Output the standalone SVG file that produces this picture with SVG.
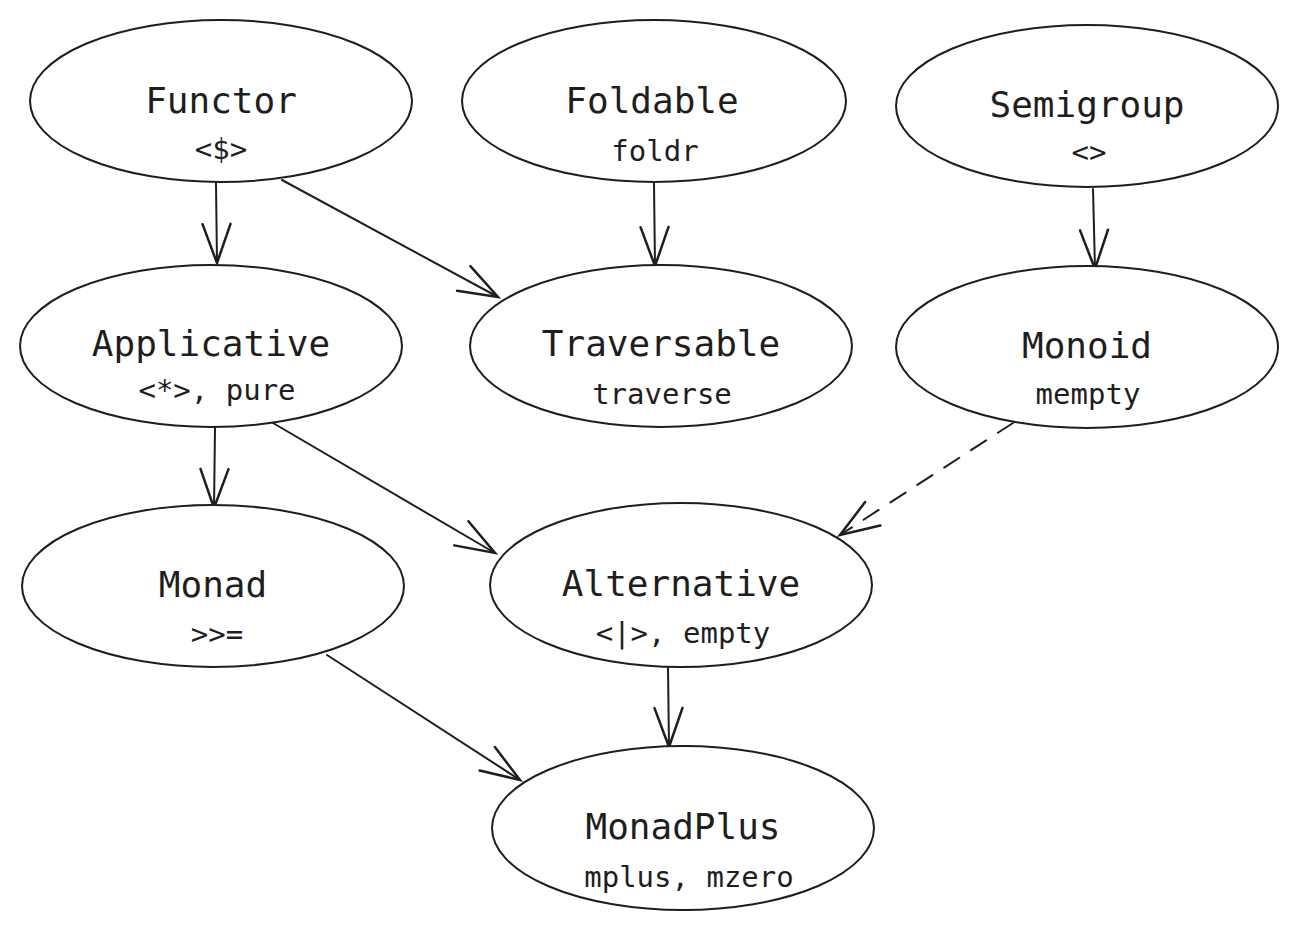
<svg xmlns="http://www.w3.org/2000/svg" width="1298" height="930" viewBox="0 0 1298 930">
<style>
.node ellipse{fill:#ffffff;stroke:#1e1e1e;stroke-width:2}
.t{font-family:"DejaVu Sans Mono","Liberation Mono",monospace;font-size:36px;fill:#1e1e1e;text-anchor:middle}
.s{font-family:"DejaVu Sans Mono","Liberation Mono",monospace;font-size:29px;fill:#1e1e1e;text-anchor:middle}
.e{fill:none;stroke:#1e1e1e;stroke-width:2;stroke-linecap:round}
.d{stroke-dasharray:18 14}
</style>
<defs>
<marker id="arr" markerUnits="userSpaceOnUse" markerWidth="50" markerHeight="40" viewBox="-42 -20 50 40" refX="0" refY="0" orient="auto">
<path d="M-39,-14 L0,0 L-39,14" fill="none" stroke="#1e1e1e" stroke-width="2.5" stroke-linecap="round"/>
</marker>
</defs>
<rect width="1298" height="930" fill="#ffffff"/>
<g id="connectors">
<path class="e" d="M216,183 L217,263" marker-end="url(#arr)"/>
<path class="e" d="M282,180 L498,297" marker-end="url(#arr)"/>
<path class="e" d="M654,183 L655,266" marker-end="url(#arr)"/>
<path class="e" d="M1093,189 L1095,269" marker-end="url(#arr)"/>
<path class="e" d="M215,428 L214,508" marker-end="url(#arr)"/>
<path class="e" d="M273,423 L495,553" marker-end="url(#arr)"/>
<path class="e d" d="M1013,423 L840,535" marker-end="url(#arr)"/>
<path class="e" d="M327,655 L520,780" marker-end="url(#arr)"/>
<path class="e" d="M668,668 L669,747" marker-end="url(#arr)"/>
</g>
<g id="functor" class="node"><ellipse cx="221" cy="101" rx="191" ry="81"/><text class="t" x="221" y="113">Functor</text><text class="s" x="221" y="159">&lt;$&gt;</text></g>
<g id="foldable" class="node"><ellipse cx="654" cy="101" rx="192" ry="81"/><text class="t" x="652" y="113">Foldable</text><text class="s" x="655" y="161">foldr</text></g>
<g id="semigroup" class="node"><ellipse cx="1087" cy="106" rx="191" ry="81"/><text class="t" x="1087" y="117">Semigroup</text><text class="s" x="1089" y="162">&lt;&gt;</text></g>
<g id="applicative" class="node"><ellipse cx="211" cy="346" rx="191" ry="81"/><text class="t" x="211" y="356">Applicative</text><text class="s" x="217" y="400">&lt;*&gt;, pure</text></g>
<g id="traversable" class="node"><ellipse cx="661" cy="346" rx="191" ry="81"/><text class="t" x="661" y="356">Traversable</text><text class="s" x="662" y="404">traverse</text></g>
<g id="monoid" class="node"><ellipse cx="1087" cy="347" rx="191" ry="81"/><text class="t" x="1087" y="358">Monoid</text><text class="s" x="1088" y="404">mempty</text></g>
<g id="monad" class="node"><ellipse cx="213" cy="586" rx="191" ry="81"/><text class="t" x="213" y="597">Monad</text><text class="s" x="217" y="644">&gt;&gt;=</text></g>
<g id="alternative" class="node"><ellipse cx="681" cy="585" rx="191" ry="82"/><text class="t" x="681" y="596">Alternative</text><text class="s" x="683" y="643">&lt;|&gt;, empty</text></g>
<g id="monadplus" class="node"><ellipse cx="683" cy="828" rx="191" ry="82"/><text class="t" x="683" y="839">MonadPlus</text><text class="s" x="689" y="887">mplus, mzero</text></g>
</svg>
